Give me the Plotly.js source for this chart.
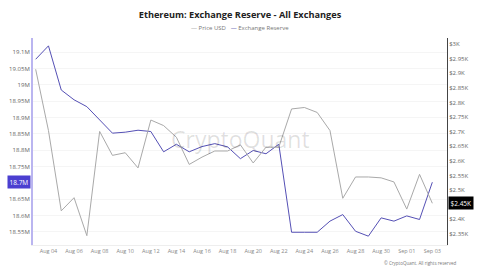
<!DOCTYPE html>
<html>
<head>
<meta charset="utf-8">
<script src="https://cdn.plot.ly/plotly-3.0.1.min.js"></script>
<style>html,body{margin:0;padding:0;background:#fff;}#chart{width:480px;height:270px;}</style>
</head>
<body>
<div id="chart"></div>
<script>
const dates = ['2024-08-03','2024-08-04','2024-08-05','2024-08-06','2024-08-07','2024-08-08','2024-08-09','2024-08-10',
  '2024-08-11','2024-08-12','2024-08-13','2024-08-14','2024-08-15','2024-08-16','2024-08-17','2024-08-18',
  '2024-08-19','2024-08-20','2024-08-21','2024-08-22','2024-08-23','2024-08-24','2024-08-25','2024-08-26',
  '2024-08-27','2024-08-28','2024-08-29','2024-08-30','2024-08-31','2024-09-01','2024-09-02','2024-09-03'];
// Exchange reserve, millions of ETH
const reserveM = [19.078, 19.119, 18.984, 18.954, 18.933, 18.894, 18.852, 18.855,
  18.861, 18.857, 18.795, 18.818, 18.795, 18.811, 18.820, 18.810,
  18.774, 18.799, 18.789, 18.818, 18.549, 18.549, 18.549, 18.583,
  18.603, 18.552, 18.537, 18.593, 18.583, 18.599, 18.588, 18.702];
// Price USD, thousands
const priceK = [2.914, 2.704, 2.429, 2.474, 2.344, 2.701, 2.619, 2.628,
  2.576, 2.740, 2.721, 2.681, 2.588, 2.613, 2.634, 2.634,
  2.655, 2.593, 2.647, 2.647, 2.778, 2.783, 2.766, 2.704,
  2.472, 2.545, 2.545, 2.542, 2.528, 2.435, 2.554, 2.455];
// tick labels (the 18.7M and $2.45K ticks are shown by the current-value labels instead)
const leftTickVals = [19.1, 19.05, 19.0, 18.95, 18.9, 18.85, 18.8, 18.75, 18.65, 18.6, 18.55];
const leftTickText = ['19.1M','19.05M','19M','18.95M','18.9M','18.85M','18.8M','18.75M','18.65M','18.6M','18.55M'];
const rightTickVals = [3.0, 2.95, 2.9, 2.85, 2.8, 2.75, 2.7, 2.65, 2.6, 2.55, 2.5, 2.4, 2.35];
const rightTickText = ['$3K','$2.95K','$2.9K','$2.85K','$2.8K','$2.75K','$2.7K','$2.65K','$2.6K','$2.55K','$2.5K','$2.4K','$2.35K'];
const lastReserveLabel = '18.7M';
const lastPriceLabel = '$2.45K';

const traces = [
  {x: dates, y: priceK, name: 'Price USD', type: 'scatter', mode: 'lines', yaxis: 'y2',
   line: {color: '#a9a9a9', width: 1}},
  {x: dates, y: reserveM, name: 'Exchange Reserve', type: 'scatter', mode: 'lines', yaxis: 'y',
   line: {color: '#5550b5', width: 1}}
];

const layout = {
  width: 480, height: 270,
  margin: {l: 33, r: 33, t: 38, b: 25, pad: 0},
  paper_bgcolor: '#ffffff', plot_bgcolor: '#ffffff',
  showlegend: false,
  font: {family: 'Open Sans, sans-serif', size: 6, color: '#666'},
  title: {text: 'Ethereum: Exchange Reserve - All Exchanges',
    font: {family: 'Open Sans, sans-serif', size: 9.2, color: '#222', weight: 700},
    x: 0.5, xanchor: 'center', y: 1 - 14.5/270, yref: 'container', yanchor: 'middle'},
  xaxis: {type: 'date', range: ['2024-08-02T19:00', '2024-09-04T03:30'],
    tickformat: '%b %d', dtick: 2*86400000, tick0: '2024-08-04',
    showgrid: false, zeroline: false, showline: true, linecolor: '#eeeeee', linewidth: 1,
    ticks: '', tickfont: {size: 5.5, color: '#888'}},
  yaxis: {range: [18.510, 19.143], tickvals: leftTickVals, ticktext: leftTickText,
    showline: true, linecolor: '#bab5f0', linewidth: 2, zeroline: false,
    showgrid: true, gridcolor: '#f5f5f5', ticks: '', tickfont: {size: 6, color: '#666'}},
  yaxis2: {range: [2.312, 3.021], overlaying: 'y', side: 'right', tickvals: rightTickVals, ticktext: rightTickText,
    showline: true, linecolor: '#444', linewidth: 1, zeroline: false, showgrid: false,
    ticks: '', tickfont: {size: 6, color: '#666'}},
  annotations: [
    {xref: 'paper', yref: 'paper', x: 0.5, y: 1.048, xanchor: 'center', yanchor: 'middle', showarrow: false,
     text: '<span style="color:#999">—</span> Price USD   <span style="color:#4a45a8">—</span> Exchange Reserve',
     font: {size: 6, color: '#777'}},
    {xref: 'paper', yref: 'paper', x: 0.5, y: 0.51, xanchor: 'center', yanchor: 'middle', showarrow: false,
     text: 'CryptoQuant', font: {size: 23, color: 'rgba(0,0,0,0.12)'}},
    {xref: 'paper', yref: 'paper', x: 1.027, y: -0.087, xanchor: 'right', yanchor: 'middle', showarrow: false,
     text: '© CryptoQuant. All rights reserved', font: {size: 4.5, color: '#777'}},
    {xref: 'paper', yref: 'y', x: 0, y: reserveM[reserveM.length-1], xanchor: 'right', yanchor: 'middle', xshift: -2,
     showarrow: false, text: lastReserveLabel, bgcolor: '#4b3fd0', borderpad: 1.5, font: {size: 6.5, color: '#fff'}},
    {xref: 'paper', yref: 'y2', x: 1, y: priceK[priceK.length-1], xanchor: 'left', yanchor: 'middle', xshift: 1,
     showarrow: false, text: lastPriceLabel, bgcolor: '#000000', borderpad: 1.5, font: {size: 6.5, color: '#fff'}}
  ]
};

Plotly.newPlot('chart', traces, layout, {staticPlot: true, displayModeBar: false});
</script>
</body>
</html>
